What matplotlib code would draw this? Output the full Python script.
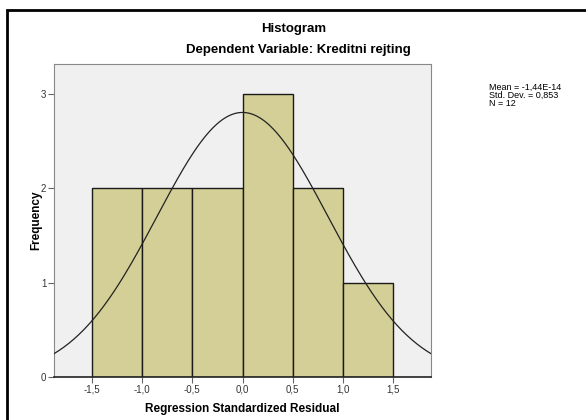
import numpy as np
import matplotlib.pyplot as plt
from matplotlib.patches import Rectangle

plt.rcParams['font.family'] = ['Liberation Sans', 'DejaVu Sans']

bin_edges = [-1.5, -1.0, -0.5, 0.0, 0.5, 1.0, 1.5]
counts = [2, 2, 2, 3, 2, 1]
mean_val = -1.44e-14
std_val = 0.853
n_val = 12
xtick_vals = [-1.5, -1.0, -0.5, 0.0, 0.5, 1.0, 1.5]
xtick_labels = ['-1,5', '-1,0', '-0,5', '0,0', '0,5', '1,0', '1,5']
ytick_vals = [0, 1, 2, 3]
stats_lines = ['Mean = -1,44E-14', 'Std. Dev. = 0,853', 'N = 12']

fig = plt.figure(figsize=(5.86, 4.2), dpi=100)
W, H = 586, 420
ax = fig.add_axes([54 / W, 1 - 377 / H, (431 - 54) / W, (377 - 64) / H])
ax.set_facecolor('#f0f0f0')

lefts = bin_edges[:-1]
widths = np.diff(bin_edges)
ax.bar(lefts, counts, width=widths, align='edge', color='#d3cf96',
       edgecolor='#1a1a1a', linewidth=1.0, zorder=2)

# normal curve from the shown statistics
xs = np.linspace(-1.88, 1.88, 300)
binw = 0.5
ys = n_val * binw / (std_val * np.sqrt(2 * np.pi)) * np.exp(-0.5 * ((xs - mean_val) / std_val) ** 2)
ax.plot(xs, ys, color='#222222', lw=0.9, zorder=3)

ax.set_xlim(-1.88, 1.88)
ax.set_ylim(0, 3.32)
ax.set_xticks(xtick_vals)
ax.set_xticklabels(xtick_labels)
ax.set_yticks(ytick_vals)
ax.tick_params(direction='out', length=4, width=0.8, pad=1.5, colors='#666666', labelsize=7, labelcolor='#333333')
for s in ['left', 'right', 'top']:
    ax.spines[s].set_color('#888888')
ax.spines['bottom'].set_color('#222222')
ax.spines['bottom'].set_linewidth(1.2)

ax.set_ylabel('Frequency', fontsize=8.5, fontweight='bold', labelpad=-1)
ax.set_xlabel('Regression Standardized Residual', fontsize=8.5, fontweight='bold', labelpad=6)

fig.text(294 / W, 1 - 29 / H, 'Histogram', ha='center', va='center', fontsize=9.5, fontweight='bold')
fig.text(298 / W, 1 - 50 / H, 'Dependent Variable: Kreditni rejting', ha='center', va='center',
         fontsize=9.5, fontweight='bold')
for i, line in enumerate(stats_lines):
    fig.text(489 / W, 1 - (87 + i * 8) / H, line, ha='left', va='center', fontsize=6.5)

fig.patches.append(Rectangle((6.5 / W, -0.05), 1.2, 1 - 9.5 / H + 0.05, transform=fig.transFigure,
                             fill=False, edgecolor='black', linewidth=2))

fig.savefig('out.png', dpi=100)
